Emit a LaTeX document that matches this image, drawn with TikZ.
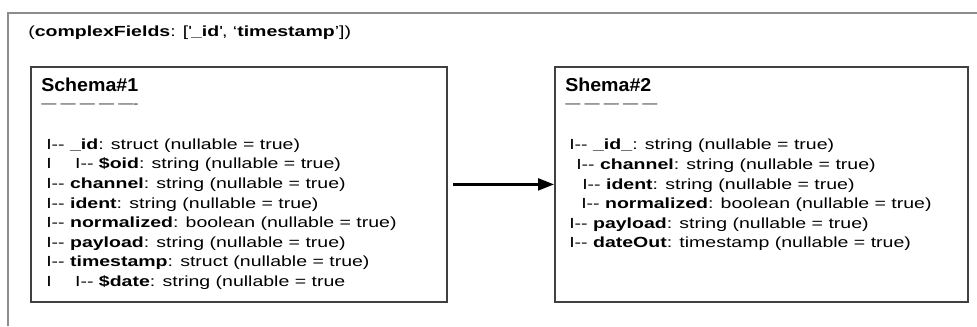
\documentclass[tikz,border=0pt]{standalone}
\usepackage{fontspec}
\setmainfont[FakeStretch=1.33]{Liberation Sans}
\newfontfamily\titlefont[FakeStretch=1.05]{Liberation Sans}
\usetikzlibrary{arrows.meta}

\newcommand{\bodyfont}{\fontsize{11}{13}\selectfont}
\newcommand{\headfont}{\titlefont\bfseries\fontsize{14}{16}\selectfont}
\newcommand{\dashfont}{\bfseries\fontsize{8.5}{10}\selectfont}
\newcommand{\tick}{I-{}-\ }

\tikzset{
  frame/.style={line width=1.5pt, color=black!45},
  schemabox/.style={draw=black!75, line width=1.5pt, inner sep=0pt, minimum height=176.5pt},
  field/.style={anchor=base west, inner sep=0pt, font=\bodyfont},
  heading/.style={anchor=base west, inner sep=0pt, font=\headfont},
  rule/.style={anchor=base west, inner sep=0pt, font=\dashfont, text=black!65},
  flow/.style={line width=1.7pt, -{Triangle[length=12pt,width=9pt]}, shorten <=3.75pt}
}

\begin{document}
\begin{tikzpicture}[x=0.75pt, y=-0.75pt]
	%%%%% START %%%%%
	\useasboundingbox (0, 0) rectangle (977, 326);

	\draw[frame] (8, 326) -- (8, 13) -- (977, 13);
	\node[field] (fields) at (28, 36) {(\textbf{complexFields}: [\textquotesingle\textbf{\_id}\textquotesingle, ‘\textbf{timestamp}’])};

	% input schema
	\node[schemabox, minimum width=311.8pt] (schemaA) at (238.9, 184.4) {};
	\node[heading] (titleA) at (41, 91) {Schema\#1};
	\node[rule] (ruleA) at (41, 107.5) {— — — — —-};

	\node[field] (a1) at (46, 149.3) {\tick\textbf{\_id}: struct (nullable = true)};
	\node[field] (a2) at (46, 168.9) {I\hspace{17.6pt}\tick\textbf{\$oid}: string (nullable = true)};
	\node[field] (a3) at (46, 188.5) {\tick\textbf{channel}: string (nullable = true)};
	\node[field] (a4) at (46, 208.1) {\tick\textbf{ident}: string (nullable = true)};
	\node[field] (a5) at (46, 227.7) {\tick\textbf{normalized}: boolean (nullable = true)};
	\node[field] (a6) at (46, 247.3) {\tick\textbf{payload}: string (nullable = true)};
	\node[field] (a7) at (46, 266.9) {\tick\textbf{timestamp}: struct (nullable = true)};
	\node[field] (a8) at (46, 286.5) {I\hspace{17.6pt}\tick\textbf{\$date}: string (nullable = true};

	% output schema
	\node[schemabox, minimum width=309.75pt] (schemaB) at (761.5, 184.4) {};
	\node[heading] (titleB) at (565, 91) {Shema\#2};
	\node[rule] (ruleB) at (565, 107.5) {— — — — —};

	\node[field] (b1) at (569, 149.8) {\tick\textbf{\_id\_}: string (nullable = true)};
	\node[field] (b2) at (576, 169.4) {\tick\textbf{channel}: string (nullable = true)};
	\node[field] (b3) at (582, 189.0) {\tick\textbf{ident}: string (nullable = true)};
	\node[field] (b4) at (581, 208.6) {\tick\textbf{normalized}: boolean (nullable = true)};
	\node[field] (b5) at (569, 228.2) {\tick\textbf{payload}: string (nullable = true)};
	\node[field] (b6) at (569, 247.8) {\tick\textbf{dateOut}: timestamp (nullable = true)};

	\draw[flow] (schemaA.east) -- (schemaB.west);
	%%%%% END %%%%%
\end{tikzpicture}
\end{document}
